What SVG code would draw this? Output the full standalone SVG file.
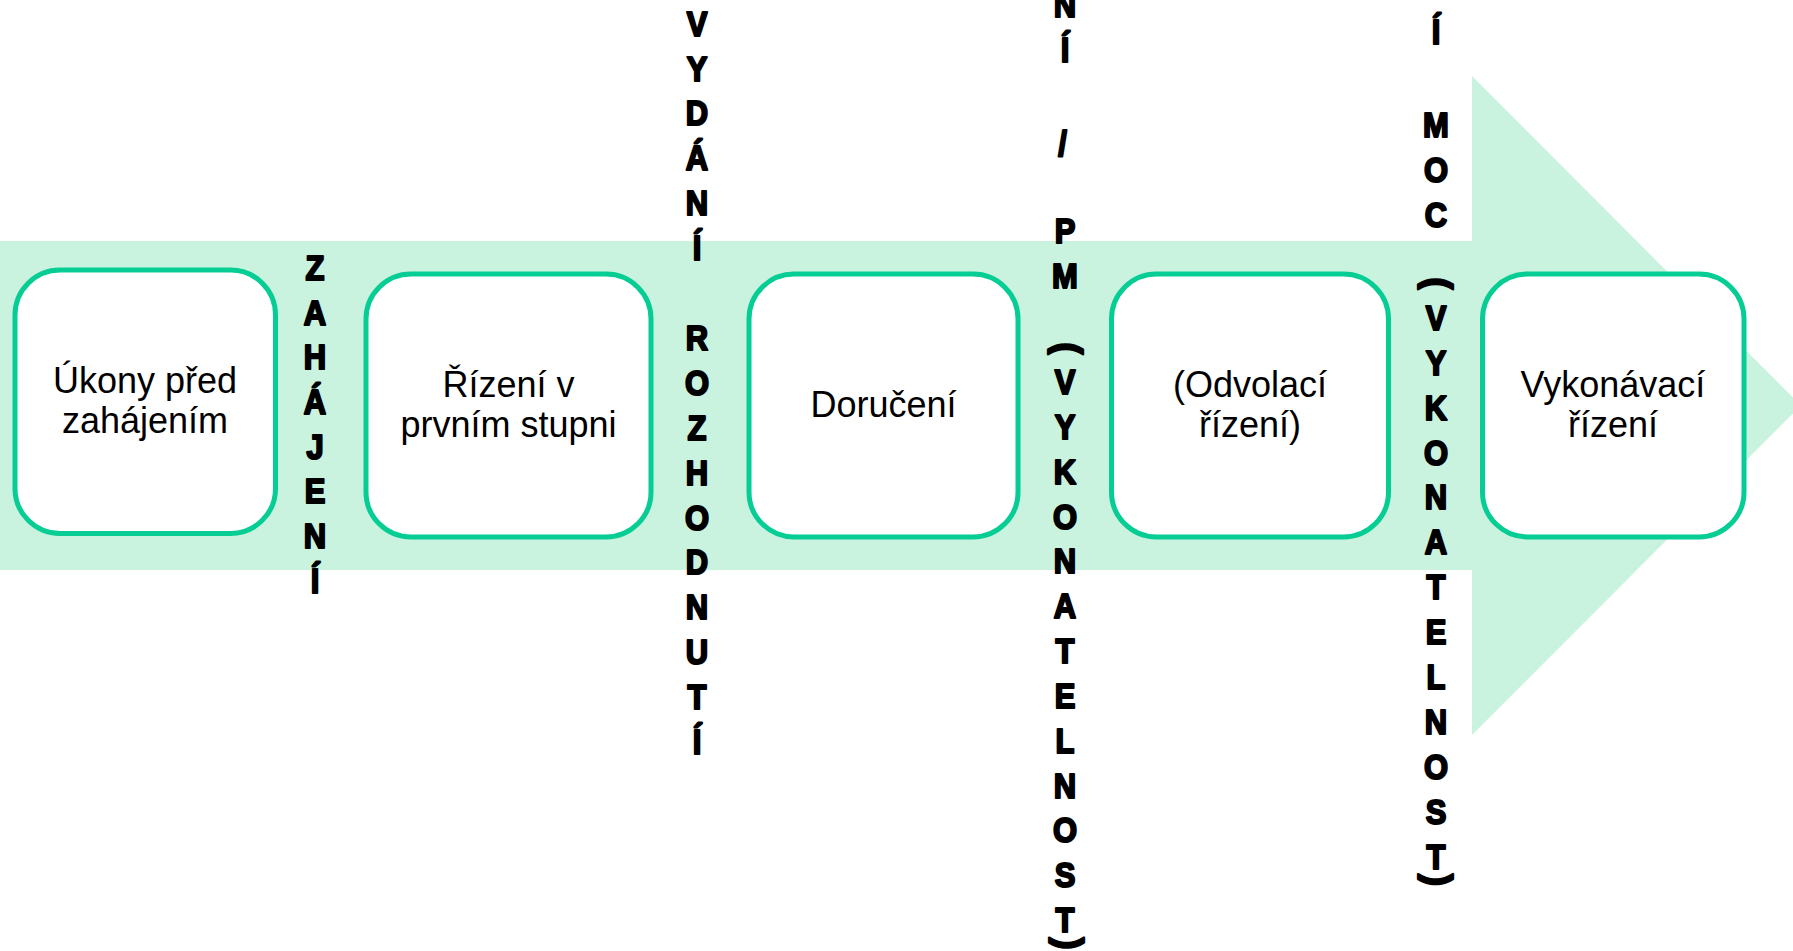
<svg xmlns="http://www.w3.org/2000/svg" width="1793" height="951" viewBox="0 0 1793 951">
<style>
.box{fill:#FFFFFF;stroke:#06CD94;stroke-width:5}
.lbl{font-family:"Liberation Sans",Arial,sans-serif;font-size:36px;fill:#000;text-anchor:middle}
.v{font-family:"Liberation Sans",Arial,sans-serif;font-size:36px;font-weight:bold;fill:#000;stroke:#000;stroke-width:2.2;stroke-linejoin:round;text-anchor:middle}
</style>
<rect x="0" y="0" width="1793" height="951" fill="#FFFFFF"/>
<g id="arrow">
<polygon points="0,241 1472,241 1472,76 1801,405.5 1472,735 1472,570 0,570" fill="#CAF3DF"/>
</g>
<g id="connectors"></g>
<g id="node1"><rect class="box" x="15" y="270" width="260.5" height="263.5" rx="45"/><text class="lbl" x="145" y="393">Úkony před</text><text class="lbl" x="145" y="433">zahájením</text></g>
<g id="node2"><rect class="box" x="366" y="274" width="285" height="263" rx="45"/><text class="lbl" x="508.5" y="397">Řízení v</text><text class="lbl" x="508.5" y="437">prvním stupni</text></g>
<g id="node3"><rect class="box" x="749" y="274" width="269" height="263" rx="45"/><text class="lbl" x="883.5" y="417">Doručení</text></g>
<g id="node4"><rect class="box" x="1111.5" y="274" width="277" height="263" rx="45"/><text class="lbl" x="1250" y="397">(Odvolací</text><text class="lbl" x="1250" y="437">řízení)</text></g>
<g id="node5"><rect class="box" x="1482.5" y="274" width="261.5" height="263" rx="45"/><text class="lbl" x="1613" y="397">Vykonávací</text><text class="lbl" x="1613" y="437">řízení</text></g>
<g id="label-zahajeni" transform="translate(315,0) scale(0.86,1)">
<text class="v"><tspan x="0" y="280">Z</tspan><tspan x="0" y="324.7">A</tspan><tspan x="0" y="369.4">H</tspan><tspan x="0" y="414">Á</tspan><tspan x="0" y="458.8">J</tspan><tspan x="0" y="503.5">E</tspan><tspan x="0" y="548.2">N</tspan><tspan x="0" y="593">Í</tspan></text>
</g>
<g id="label-vydani" transform="translate(697,0) scale(0.86,1)">
<text class="v"><tspan x="0" y="35.7">V</tspan><tspan x="0" y="80.6">Y</tspan><tspan x="0" y="125.5">D</tspan><tspan x="0" y="170.4">Á</tspan><tspan x="0" y="215.3">N</tspan><tspan x="0" y="260.2">Í</tspan><tspan x="0" y="350">R</tspan><tspan x="0" y="394.9">O</tspan><tspan x="0" y="439.8">Z</tspan><tspan x="0" y="484.7">H</tspan><tspan x="0" y="529.6">O</tspan><tspan x="0" y="574.5">D</tspan><tspan x="0" y="619.4">N</tspan><tspan x="0" y="664.3">U</tspan><tspan x="0" y="709.2">T</tspan><tspan x="0" y="754.1">Í</tspan></text>
</g>
<g id="label-pm">
<g transform="translate(1065,0) scale(0.86,1)">
<text class="v"><tspan x="0" y="17.3">N</tspan><tspan x="0" y="61.7">Í</tspan><tspan x="-3" y="156">/</tspan><tspan x="0" y="243.3">P</tspan><tspan x="0" y="288.3">M</tspan><tspan x="0" y="394">V</tspan><tspan x="0" y="439">Y</tspan><tspan x="0" y="484">K</tspan><tspan x="0" y="529">O</tspan><tspan x="0" y="573.5">N</tspan><tspan x="0" y="618">A</tspan><tspan x="0" y="663">T</tspan><tspan x="0" y="708">E</tspan><tspan x="0" y="753">L</tspan><tspan x="0" y="797.7">N</tspan><tspan x="0" y="842.5">O</tspan><tspan x="0" y="887.3">S</tspan><tspan x="0" y="932">T</tspan></text>
</g>
<text class="v" x="1065" y="357" transform="rotate(90 1065 348.4)">(</text>
<text class="v" x="1065" y="952" transform="rotate(90 1065 943.5)">)</text>
</g>
<g id="label-moc">
<g transform="translate(1436,0) scale(0.86,1)">
<text class="v"><tspan x="0" y="44.3">Í</tspan><tspan x="0" y="136.7">M</tspan><tspan x="0" y="181.7">O</tspan><tspan x="0" y="226.7">C</tspan><tspan x="0" y="330">V</tspan><tspan x="0" y="375">Y</tspan><tspan x="0" y="420">K</tspan><tspan x="0" y="465">O</tspan><tspan x="0" y="509.5">N</tspan><tspan x="0" y="554.5">A</tspan><tspan x="0" y="599.3">T</tspan><tspan x="0" y="644.3">E</tspan><tspan x="0" y="689.3">L</tspan><tspan x="0" y="734.3">N</tspan><tspan x="0" y="779.3">O</tspan><tspan x="0" y="824">S</tspan><tspan x="0" y="869.3">T</tspan></text>
</g>
<text class="v" x="1434" y="292" transform="rotate(90 1434 283.5)">(</text>
<text class="v" x="1434" y="888.5" transform="rotate(90 1434 880)">)</text>
</g>
</svg>
